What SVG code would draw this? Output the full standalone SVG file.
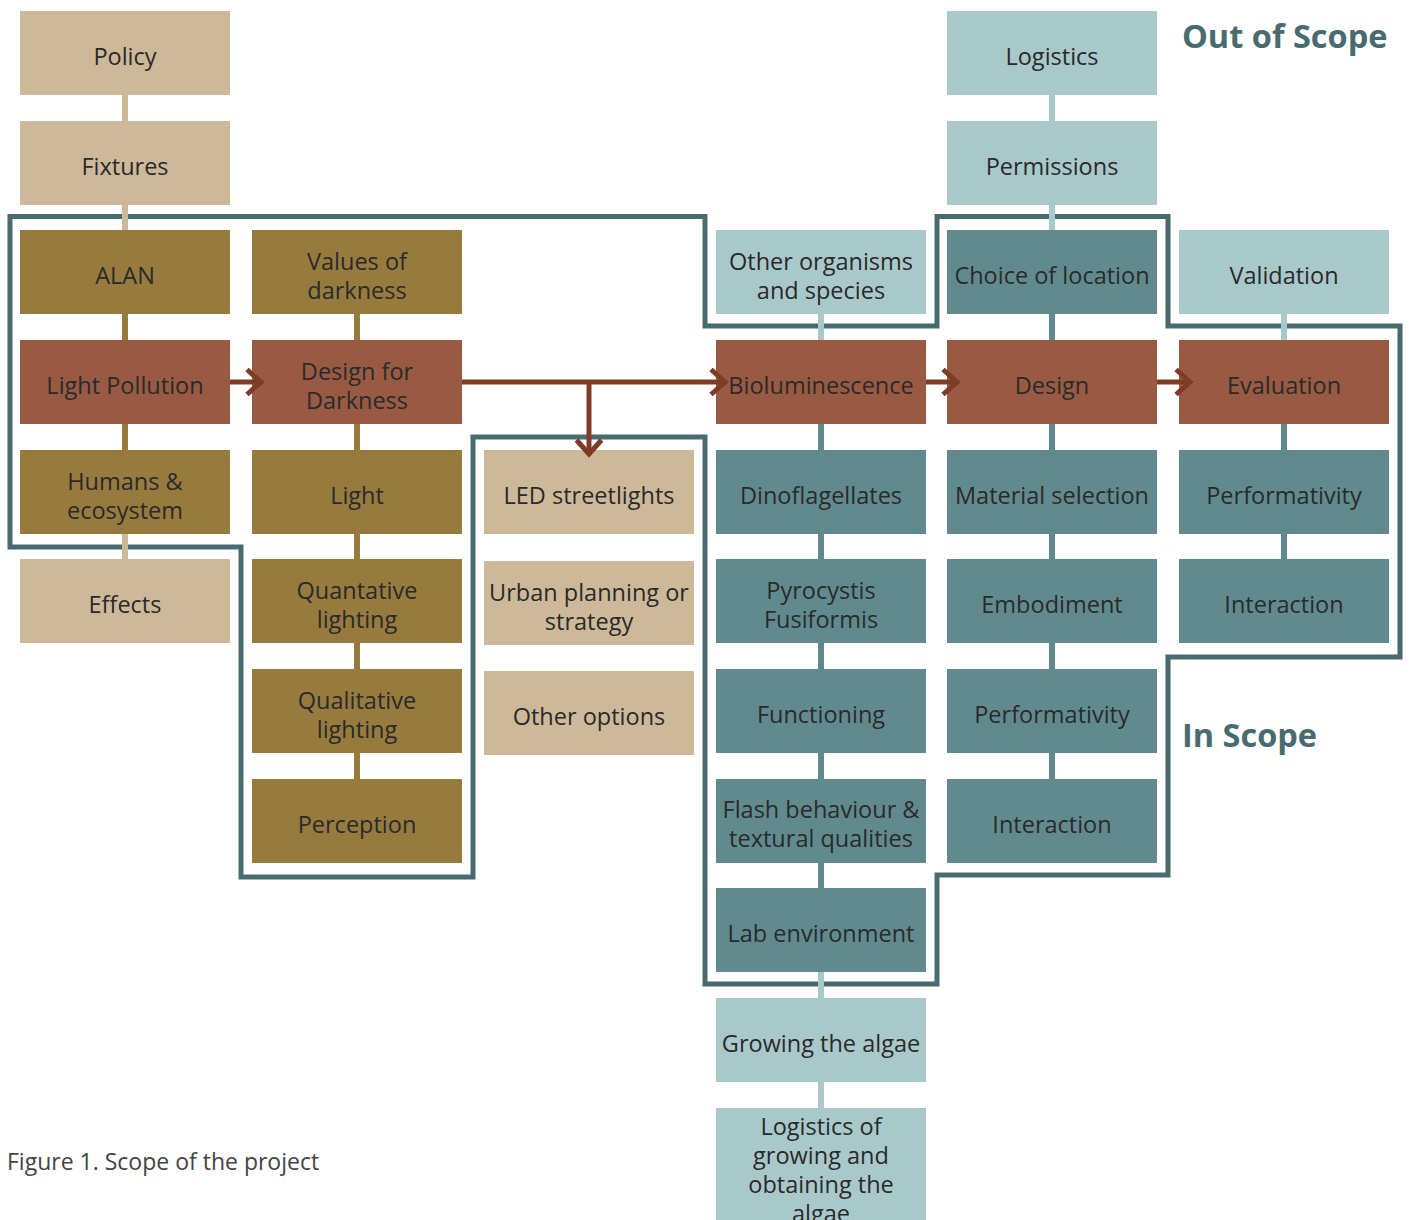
<svg xmlns="http://www.w3.org/2000/svg" width="1409" height="1220" viewBox="0 0 1409 1220">
<defs>
<style>
.tan{fill:#CDB99A}.olv{fill:#977A3E}.rst{fill:#985A43}.tl{fill:#618A8F}.lt{fill:#A9C8CA}
.lbl{font-family:"Open Sans","Noto Sans",sans-serif;font-size:23.5px;fill:#2a2a2a;text-anchor:middle}
.c{stroke-width:6;fill:none}
.ctan{stroke:#CDB99A}.colv{stroke:#977A3E}.ctl{stroke:#618A8F}.clt{stroke:#A9C8CA}
.arr{stroke:#7E3C26;stroke-width:5;fill:none;marker-end:url(#chev)}
.scope{fill:none;stroke:#476B6E;stroke-width:5}
.title{font-family:"Open Sans","Noto Sans",sans-serif;font-weight:bold;font-size:32.5px;fill:#476B6E}
.cap{font-family:"Open Sans","Noto Sans",sans-serif;font-size:23px;fill:#444}
</style>
<marker id="chev" markerUnits="userSpaceOnUse" viewBox="-20 -16 24 32" refX="0" refY="0" markerWidth="24" markerHeight="32" orient="auto" overflow="visible">
<path d="M-14,-12.5 L0,0 L-14,12.5" fill="none" stroke="#7E3C26" stroke-width="5"/>
</marker>
</defs>
<rect width="1409" height="1220" fill="#fff"/>

<g id="scope-boundary">
<path class="scope" d="M10,216.5 H705 V326 H937 V216.5 H1168 V326 H1400 V657 H1168 V875 H937 V984 H705 V437 H473 V877 H241 V547 H10 Z"/>
</g>

<g id="n-policy"><rect class="tan" x="20" y="11" width="210" height="84"/><text class="lbl" x="125" y="65">Policy</text></g>
<g id="n-fixtures"><rect class="tan" x="20" y="121" width="210" height="84"/><text class="lbl" x="125" y="175">Fixtures</text></g>
<g id="n-alan"><rect class="olv" x="20" y="230" width="210" height="84"/><text class="lbl" x="125" y="284">ALAN</text></g>
<g id="n-light-pollution"><rect class="rst" x="20" y="340" width="210" height="84"/><text class="lbl" x="125" y="394">Light Pollution</text></g>
<g id="n-humans"><rect class="olv" x="20" y="450" width="210" height="84"/><text class="lbl" x="125" y="490">Humans &amp;</text><text class="lbl" x="125" y="519">ecosystem</text></g>
<g id="n-effects"><rect class="tan" x="20" y="559" width="210" height="84"/><text class="lbl" x="125" y="613">Effects</text></g>

<g id="n-values"><rect class="olv" x="252" y="230" width="210" height="84"/><text class="lbl" x="357" y="270">Values of</text><text class="lbl" x="357" y="299">darkness</text></g>
<g id="n-design-darkness"><rect class="rst" x="252" y="340" width="210" height="84"/><text class="lbl" x="357" y="380">Design for</text><text class="lbl" x="357" y="409">Darkness</text></g>
<g id="n-light"><rect class="olv" x="252" y="450" width="210" height="84"/><text class="lbl" x="357" y="504">Light</text></g>
<g id="n-quantative"><rect class="olv" x="252" y="559" width="210" height="84"/><text class="lbl" x="357" y="599">Quantative</text><text class="lbl" x="357" y="628">lighting</text></g>
<g id="n-qualitative"><rect class="olv" x="252" y="669" width="210" height="84"/><text class="lbl" x="357" y="709">Qualitative</text><text class="lbl" x="357" y="738">lighting</text></g>
<g id="n-perception"><rect class="olv" x="252" y="779" width="210" height="84"/><text class="lbl" x="357" y="833">Perception</text></g>

<g id="n-led"><rect class="tan" x="484" y="450" width="210" height="84"/><text class="lbl" x="589" y="504">LED streetlights</text></g>
<g id="n-urban"><rect class="tan" x="484" y="561" width="210" height="84"/><text class="lbl" x="589" y="601">Urban planning or</text><text class="lbl" x="589" y="630">strategy</text></g>
<g id="n-other-options"><rect class="tan" x="484" y="671" width="210" height="84"/><text class="lbl" x="589" y="725">Other options</text></g>

<g id="n-other-organisms"><rect class="lt" x="716" y="230" width="210" height="84"/><text class="lbl" x="821" y="270">Other organisms</text><text class="lbl" x="821" y="299">and species</text></g>
<g id="n-bioluminescence"><rect class="rst" x="716" y="340" width="210" height="84"/><text class="lbl" x="821" y="394">Bioluminescence</text></g>
<g id="n-dinoflagellates"><rect class="tl" x="716" y="450" width="210" height="84"/><text class="lbl" x="821" y="504">Dinoflagellates</text></g>
<g id="n-pyrocystis"><rect class="tl" x="716" y="559" width="210" height="84"/><text class="lbl" x="821" y="599">Pyrocystis</text><text class="lbl" x="821" y="628">Fusiformis</text></g>
<g id="n-functioning"><rect class="tl" x="716" y="669" width="210" height="84"/><text class="lbl" x="821" y="723">Functioning</text></g>
<g id="n-flash"><rect class="tl" x="716" y="779" width="210" height="84"/><text class="lbl" x="821" y="818">Flash behaviour &amp;</text><text class="lbl" x="821" y="847">textural qualities</text></g>
<g id="n-lab"><rect class="tl" x="716" y="888" width="210" height="84"/><text class="lbl" x="821" y="942">Lab environment</text></g>
<g id="n-growing"><rect class="lt" x="716" y="998" width="210" height="84"/><text class="lbl" x="821" y="1052">Growing the algae</text></g>
<g id="n-logistics-algae"><rect class="lt" x="716" y="1108" width="210" height="112"/><text class="lbl" x="821" y="1135">Logistics of</text><text class="lbl" x="821" y="1164">growing and</text><text class="lbl" x="821" y="1193">obtaining the</text><text class="lbl" x="821" y="1222">algae</text></g>

<g id="n-logistics"><rect class="lt" x="947" y="11" width="210" height="84"/><text class="lbl" x="1052" y="65">Logistics</text></g>
<g id="n-permissions"><rect class="lt" x="947" y="121" width="210" height="84"/><text class="lbl" x="1052" y="175">Permissions</text></g>
<g id="n-choice"><rect class="tl" x="947" y="230" width="210" height="84"/><text class="lbl" x="1052" y="284">Choice of location</text></g>
<g id="n-design"><rect class="rst" x="947" y="340" width="210" height="84"/><text class="lbl" x="1052" y="394">Design</text></g>
<g id="n-material"><rect class="tl" x="947" y="450" width="210" height="84"/><text class="lbl" x="1052" y="504">Material selection</text></g>
<g id="n-embodiment"><rect class="tl" x="947" y="559" width="210" height="84"/><text class="lbl" x="1052" y="613">Embodiment</text></g>
<g id="n-performativity-d"><rect class="tl" x="947" y="669" width="210" height="84"/><text class="lbl" x="1052" y="723">Performativity</text></g>
<g id="n-interaction-d"><rect class="tl" x="947" y="779" width="210" height="84"/><text class="lbl" x="1052" y="833">Interaction</text></g>

<g id="n-validation"><rect class="lt" x="1179" y="230" width="210" height="84"/><text class="lbl" x="1284" y="284">Validation</text></g>
<g id="n-evaluation"><rect class="rst" x="1179" y="340" width="210" height="84"/><text class="lbl" x="1284" y="394">Evaluation</text></g>
<g id="n-performativity-e"><rect class="tl" x="1179" y="450" width="210" height="84"/><text class="lbl" x="1284" y="504">Performativity</text></g>
<g id="n-interaction-e"><rect class="tl" x="1179" y="559" width="210" height="84"/><text class="lbl" x="1284" y="613">Interaction</text></g>

<g id="connectors">
<path class="c ctan" d="M125,95V121M125,205V230M125,534V559"/>
<path class="c colv" d="M125,314V340M125,424V450M357,314V340M357,424V450M357,534V559M357,643V669M357,753V779"/>
<path class="c clt" d="M821,314V340M821,972V998M821,1082V1108M1052,95V121M1052,205V230M1284,314V340"/>
<path class="c ctl" d="M821,424V450M821,534V559M821,643V669M821,753V779M821,863V888M1052,314V340M1052,424V450M1052,534V559M1052,643V669M1052,753V779M1284,424V450M1284,534V559"/>
<line class="arr" x1="230" y1="382" x2="261" y2="382"/>
<line class="arr" x1="462" y1="382" x2="725" y2="382"/>
<line class="arr" x1="589" y1="382" x2="589" y2="454"/>
<line class="arr" x1="926" y1="382" x2="957" y2="382"/>
<line class="arr" x1="1157" y1="382" x2="1190" y2="382"/>
</g>

<g id="labels">
<text class="title" x="1182" y="48">Out of Scope</text>
<text class="title" x="1182" y="747">In Scope</text>
<text class="cap" x="7" y="1170">Figure 1. Scope of the project</text>
</g>
</svg>
